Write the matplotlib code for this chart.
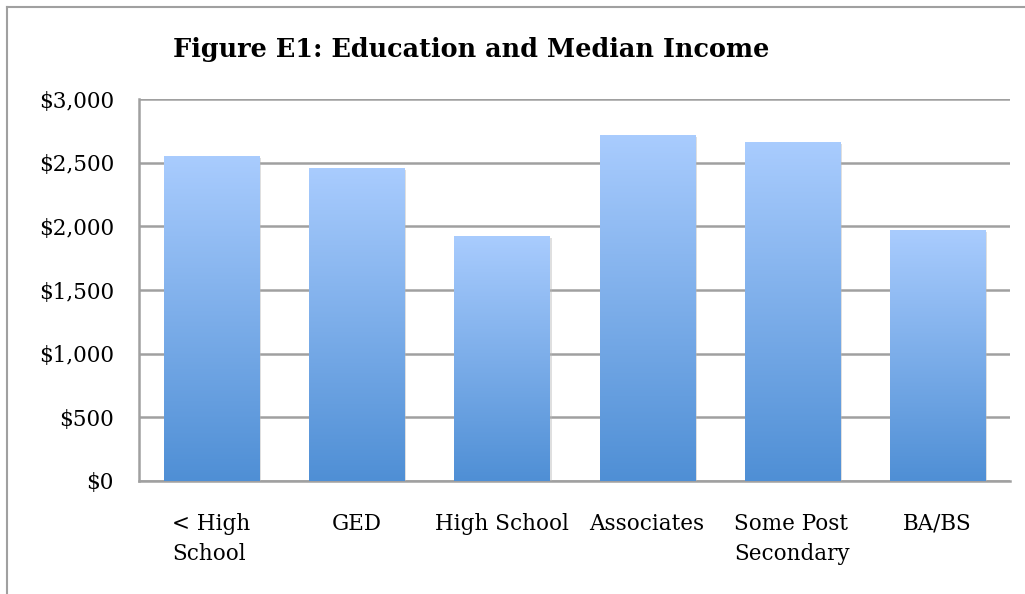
import numpy as np
import matplotlib.pyplot as plt
from matplotlib.colors import LinearSegmentedColormap
from matplotlib.lines import Line2D
from matplotlib.ticker import FuncFormatter
import matplotlib.patheffects as pe

categories = ['< High\nSchool', 'GED', 'High School', 'Associates', 'Some Post\nSecondary', 'BA/BS']
median_income = [2552, 2458, 1924, 2717, 2662, 1971]
y_ticks = [0, 500, 1000, 1500, 2000, 2500, 3000]

plt.rcParams['font.family'] = ['DejaVu Serif']

fig = plt.figure(figsize=(10.25, 5.94), dpi=100)
ax = fig.add_axes([139 / 1025, 1 - 481 / 594, (1010 - 139) / 1025, (481 - 99) / 594])

x = np.arange(len(categories))
bars = ax.bar(x, median_income, width=0.655, color='none', zorder=3,
              path_effects=[pe.SimplePatchShadow(offset=(1.5, -1.5), shadow_rgbFace='#b8b8b8', alpha=0.45), pe.Normal()])

cmap = LinearSegmentedColormap.from_list('bluegrad', ['#4f8fd5', '#a9ccfe'])
grad = np.linspace(0, 1, 256).reshape(-1, 1)
for b in bars:
    x0, w, h = b.get_x(), b.get_width(), b.get_height()
    im = ax.imshow(grad, cmap=cmap, aspect='auto', origin='lower',
                   extent=[x0, x0 + w, 0, h], zorder=3)
    im.set_clip_path(b)

ax.set_xlim(-0.5, len(categories) - 0.5)
ax.set_ylim(0, 3000)
ax.set_yticks(y_ticks)
ax.yaxis.set_major_formatter(FuncFormatter(lambda v, p: '${:,.0f}'.format(v)))
ax.set_xticks(x)
ax.set_xticklabels(categories, multialignment='left', va='top', linespacing=1.45)
ax.tick_params(axis='both', length=0, labelsize=15.5, colors='black')
ax.tick_params(axis='x', pad=23)
ax.tick_params(axis='y', pad=18)

ax.grid(axis='y', color='#a0a0a0', linewidth=1.8, zorder=0)
ax.set_axisbelow(True)
for s in ['top', 'right']:
    ax.spines[s].set_visible(False)
for s in ['left', 'bottom']:
    ax.spines[s].set_color('#a0a0a0')
    ax.spines[s].set_linewidth(1.8)

fig.text(173 / 1025, 1 - 50 / 594, 'Figure E1: Education and Median Income',
         fontsize=18.4, fontweight='bold', va='center', ha='left')

# outer chart frame (extends beyond right/bottom edges)
fig.add_artist(Line2D([7 / 1025, 7 / 1025], [0, 1 - 7 / 594], color='#a0a0a0', linewidth=1.5))
fig.add_artist(Line2D([7 / 1025, 1], [1 - 7 / 594, 1 - 7 / 594], color='#a0a0a0', linewidth=1.5))

fig.savefig('out.png', dpi=100)
